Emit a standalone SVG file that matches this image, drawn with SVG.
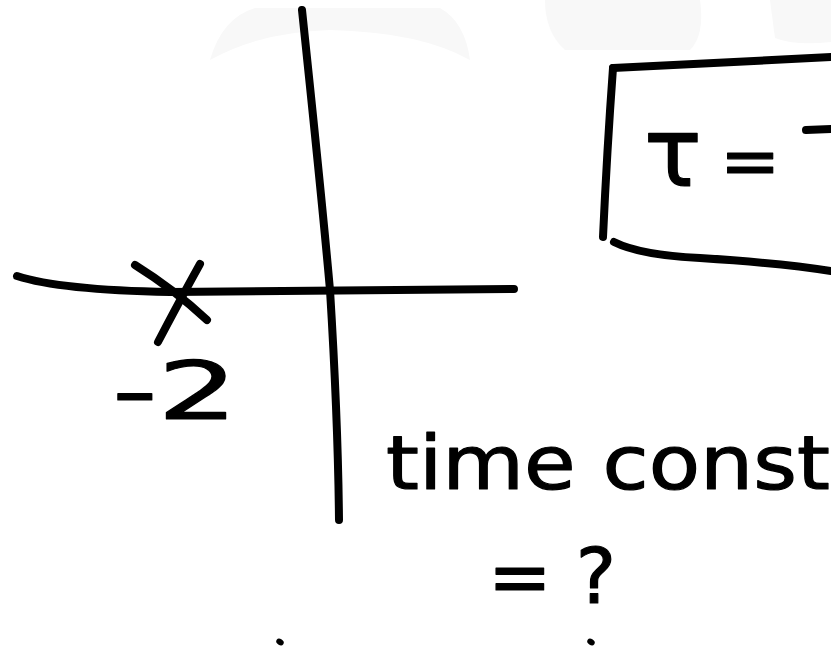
<svg xmlns="http://www.w3.org/2000/svg" width="831" height="650" viewBox="0 0 831 650">
<style>
.ink{fill:none;stroke:#000;stroke-width:8;stroke-linecap:round;stroke-linejoin:round}
.hand{font-family:"DejaVu Sans","Liberation Sans",sans-serif;fill:#000;stroke:#000;stroke-width:1.2;stroke-linejoin:round}
.wm{fill:#f8f8f8}
</style>
<rect width="831" height="650" fill="#fff"/>
<g id="watermark">
<path class="wm" d="M210 60 Q222 18 255 8 L440 8 Q465 22 470 60 Q420 32 330 30 Q260 32 210 60 Z"/>
<path class="wm" d="M545 0 L700 0 Q705 35 690 50 L565 50 Q545 32 545 0 Z"/>
<path class="wm" d="M770 0 L831 0 L831 42 Q795 46 775 38 Z"/>
</g>
<g id="axes">
<path class="ink" d="M302 10 Q322 200 330 290 Q338 420 339 520"/>
<path class="ink" d="M17 276 Q60 290 170 292 L514 289"/>
</g>
<g id="pole">
<path class="ink" d="M135 265 Q175 290 207 320"/>
<path class="ink" d="M200 264 Q180 300 158 342"/>
<text class="hand" x="112" y="419" font-size="80" textLength="126" lengthAdjust="spacingAndGlyphs">-2</text>
</g>
<g id="tau-box">
<path class="ink" d="M613 68 L831 57"/>
<path class="ink" d="M613 68 Q607 150 603 237"/>
<path class="ink" d="M614 242 Q640 255 700 258 Q780 263 831 271"/>
<text class="hand" x="644" y="186" font-size="96">τ</text>
<text class="hand" x="720" y="185" font-size="72">=</text>
<path class="ink" stroke-width="7" d="M806 130 L831 129"/>
</g>
<g id="labels">
<text class="hand" x="386" y="489" font-size="74" textLength="444" lengthAdjust="spacingAndGlyphs">time const</text>
<text class="hand" x="488" y="603" font-size="76">= ?</text>
<ellipse cx="280" cy="642" rx="4" ry="3" transform="rotate(35 280 642)" fill="#000"/>
<ellipse cx="591" cy="642" rx="4" ry="3" transform="rotate(35 591 642)" fill="#000"/>
</g>
</svg>
